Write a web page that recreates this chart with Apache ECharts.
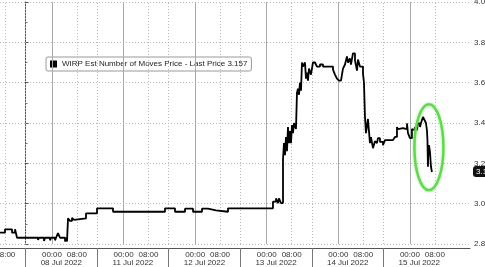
<!DOCTYPE html>
<html>
<head>
<meta charset="utf-8">
<script src="https://cdn.jsdelivr.net/npm/echarts@6/dist/echarts.min.js"></script>
<style>html,body{margin:0;padding:0;background:#fff}#c{width:485px;height:267px}</style>
</head>
<body>
<div id="c"></div>
<script>
// x = trading hours since the 08 Jul session open (sessions are 23h long)
const hours = [-8.19,-6.59,-4.34,-3.37,-2.73,4.02,4.34,5.94,6.26,7.87,8.19,9.48,9.80,10.44,11.08,12.69,13.01,13.33,13.65,14.29,14.94,15.58,15.90,19.43,22.97,24.90,25.22,28.11,37.74,38.07,44.81,48.02,51.24,53.81,56.70,58.62,61.19,65.05,79.50,80.47,81.11,81.43,82.07,82.72,83.04,83.36,83.68,84.00,84.32,84.64,84.97,85.29,85.61,85.93,86.25,86.89,87.21,87.54,87.86,88.18,88.50,88.82,89.14,89.78,90.11,90.43,90.75,91.07,91.71,92.35,93.00,93.64,94.60,95.57,96.53,97.81,98.78,99.42,100.06,100.70,101.35,101.99,102.63,103.27,103.60,104.24,104.56,105.20,105.85,106.49,106.81,107.45,108.09,108.42,108.74,109.06,109.38,110.02,110.66,110.99,111.63,112.27,112.91,113.23,113.88,114.84,115.48,118.05,118.69,119.34,119.66,120.30,121.26,122.55,122.87,123.51,124.16,124.48,125.12,125.76,126.08,126.73,127.05,127.69,128.33,128.65,128.97,129.13,129.29,129.46,129.62,129.94,130.26,130.58];
const prices = [2.856,2.873,2.856,2.873,2.831,2.820,2.831,2.815,2.831,2.818,2.831,2.818,2.831,2.854,2.831,2.812,2.831,2.812,2.927,2.915,2.930,2.920,2.927,2.952,2.977,2.970,2.977,2.960,2.955,2.960,2.977,2.960,2.975,2.960,2.975,2.967,2.960,2.977,3.010,3.026,3.003,3.026,3.003,3.220,3.300,3.240,3.330,3.260,3.380,3.300,3.360,3.300,3.390,3.350,3.400,3.370,3.550,3.570,3.540,3.600,3.560,3.700,3.680,3.700,3.620,3.650,3.610,3.670,3.640,3.700,3.700,3.680,3.690,3.680,3.680,3.680,3.665,3.640,3.620,3.610,3.615,3.670,3.690,3.730,3.700,3.720,3.690,3.745,3.710,3.660,3.715,3.680,3.680,3.645,3.600,3.430,3.350,3.420,3.300,3.330,3.275,3.310,3.300,3.325,3.306,3.290,3.315,3.315,3.331,3.380,3.370,3.375,3.370,3.398,3.350,3.325,3.370,3.365,3.380,3.365,3.398,3.380,3.400,3.430,3.410,3.400,3.364,3.315,3.183,3.280,3.290,3.257,3.183,3.157];
const lastPrice = 3.157;
const seriesName = 'WIRP Est Number of Moves Price - Last Price 3.157';

const timeTickHours = [-6.5, 8.5, 16.5, 31.5, 39.5, 54.5, 62.5, 77.5, 85.5, 100.5, 108.5, 123.5, 131.5];
const timeTickLabels = ['08:00','00:00','08:00','00:00','08:00','00:00','08:00','00:00','08:00','00:00','08:00','00:00','08:00'];
const midnightHours = [8.5, 31.5, 54.5, 77.5, 100.5, 123.5];
const eightAmHours = [-6.5, 16.5, 39.5, 62.5, 85.5, 108.5, 131.5];
const sessionStartHours = [0, 23, 46, 69, 92, 115];
const dateCenterHours = [11.5, 34.5, 57.5, 80.5, 103.5, 126.5];
const dateLabels = ['08 Jul 2022','11 Jul 2022','12 Jul 2022','13 Jul 2022','14 Jul 2022','15 Jul 2022'];

const X_MIN = -8.2, X_MAX = 142.8;
const FONT = 'Liberation Sans';

const vLines = [];
midnightHours.forEach(h => vLines.push({xAxis: h, lineStyle: {color: '#aaaaaa', width: 1, type: 'solid'}}));
eightAmHours.forEach(h => vLines.push({xAxis: h, lineStyle: {color: '#bbbbbb', width: 1, type: [1, 2]}}));
sessionStartHours.forEach(h => vLines.push({xAxis: h, lineStyle: {color: '#bbbbbb', width: 1, type: [1, 2]}}));

const chart = echarts.init(document.getElementById('c'), null, {renderer: 'canvas'});
chart.setOption({
  animation: false,
  backgroundColor: '#ffffff',
  grid: {left: 0, right: 15, top: 2, bottom: 23, containLabel: false, outerBoundsMode: 'none'},
  legend: {
    left: 46, top: 57,
    backgroundColor: '#ffffff', borderColor: '#999999', borderWidth: 1, borderRadius: 2,
    padding: [3, 4],
    itemWidth: 7, itemHeight: 7, itemGap: 4,
    icon: 'rect',
    textStyle: {fontFamily: FONT, fontSize: 8, color: '#222'},
    data: [{name: seriesName, itemStyle: {color: '#000'}}]
  },
  xAxis: [{
    type: 'value', min: X_MIN, max: X_MAX, position: 'bottom', offset: 4,
    axisLine: {show: true, onZero: false, lineStyle: {color: '#555', width: 1}},
    axisTick: {show: true, customValues: sessionStartHours, length: 19, lineStyle: {color: '#777'}},
    axisLabel: {show: true, customValues: timeTickHours, margin: 3, hideOverlap: false,
      formatter: v => { const i = timeTickHours.findIndex(h => Math.abs(h - v) < 1e-6); return i >= 0 ? timeTickLabels[i] : ''; },
      fontFamily: FONT, fontSize: 8, color: '#333'},
    splitLine: {show: false}
  }, {
    type: 'value', min: X_MIN, max: X_MAX, position: 'bottom', offset: 13,
    axisLine: {show: false}, axisTick: {show: false},
    axisLabel: {show: true, customValues: dateCenterHours, margin: 2,
      formatter: v => { const i = dateCenterHours.findIndex(h => Math.abs(h - v) < 1e-6); return i >= 0 ? dateLabels[i] : ''; },
      fontFamily: FONT, fontSize: 8, color: '#333'},
    splitLine: {show: false}
  }],
  yAxis: {
    type: 'value', position: 'right', min: 2.8, max: 4.0, interval: 0.2,
    axisLine: {show: true, lineStyle: {color: '#555', width: 1}},
    axisTick: {show: true, inside: false, length: 3, lineStyle: {color: '#555'}},
    minorTick: {show: true, splitNumber: 2, length: 2, lineStyle: {color: '#777'}},
    axisLabel: {margin: 4, formatter: v => v.toFixed(2), fontFamily: FONT, fontSize: 8, color: '#333'},
    splitLine: {show: true, lineStyle: {color: '#bbbbbb', width: 1, type: [1, 2]}}
  },
  series: [{
    name: seriesName, type: 'line', step: 'end', showSymbol: false, symbol: 'none',
    xAxisIndex: 0, yAxisIndex: 0,
    data: hours.map((h, i) => [h, prices[i]]),
    lineStyle: {color: '#000', width: 1.8}, itemStyle: {color: '#000'},
    markLine: {
      silent: true, symbol: 'none', animation: false,
      label: {show: false},
      data: vLines
    },
    z: 5
  }, {
    name: 'lastPriceTag', type: 'line', data: [], silent: true,
    xAxisIndex: 0, yAxisIndex: 0,
    markLine: {
      silent: true, symbol: 'none', animation: false,
      data: [{
        yAxis: lastPrice,
        lineStyle: {color: 'rgba(0,0,0,0)', width: 0},
        label: {show: true, position: 'end', distance: 3, formatter: lastPrice.toFixed(3),
          backgroundColor: '#111', color: '#fff', padding: [2, 3, 1, 3], borderRadius: 3,
          fontFamily: FONT, fontSize: 8}
      }]
    },
    z: 6
  }]
});

// green highlight ellipse around the final selloff
const c = chart.convertToPixel({xAxisIndex: 0, yAxisIndex: 0}, [129.6, 3.28]);
chart.setOption({
  graphic: [{
    type: 'ellipse', z: 100,
    shape: {cx: c[0], cy: c[1], rx: 14.5, ry: 43},
    style: {fill: 'none', stroke: '#62d84e', lineWidth: 2.5, shadowColor: 'rgba(98,216,78,0.6)', shadowBlur: 3}
  }]
});
</script>
</body>
</html>
